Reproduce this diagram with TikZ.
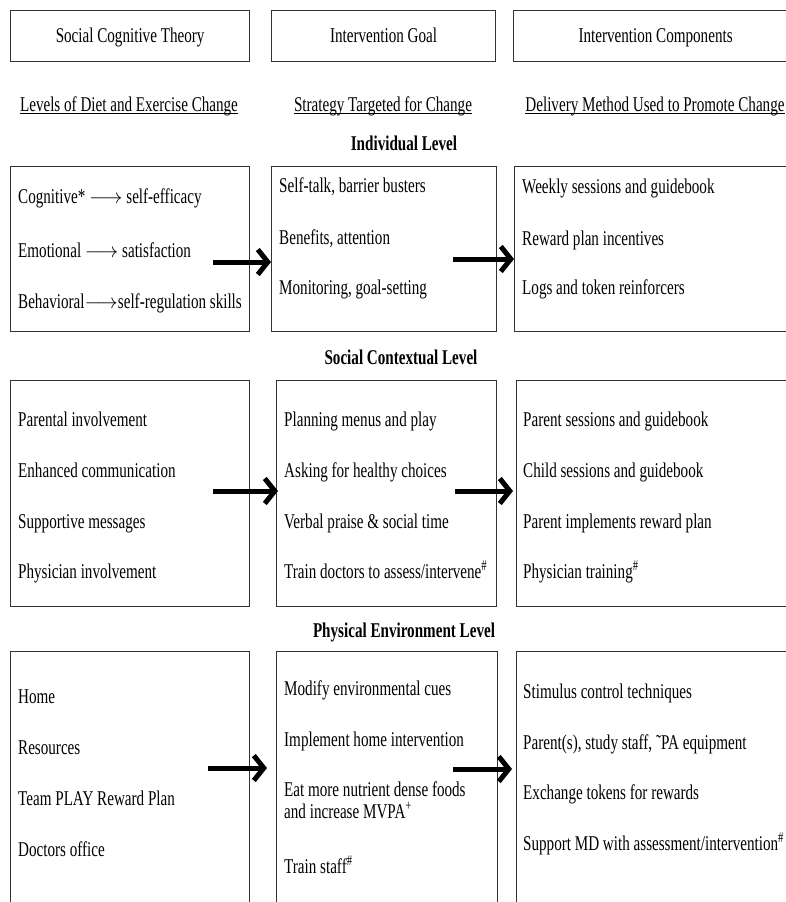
\documentclass[tikz,border=0pt]{standalone}
\usepackage{fontspec}
\setmainfont[FakeStretch=0.72]{Liberation Serif}
\usetikzlibrary{arrows.meta,positioning}

\newcommand{\lineUnder}[1]{\setbox0\hbox{#1}\rlap{\raisebox{-3.2pt}{\rule{\wd0}{0.9pt}}}\box0}

\begin{document}
\begin{tikzpicture}[
  x=1pt, y=-1pt,
  every node/.style={font=\fontsize{21}{22}\selectfont},
  panel/.style={draw=black!80, line width=1.2pt, anchor=north west,
    inner sep=0pt, text height=14pt, text depth=2pt},
  item/.style={anchor=base west, inner sep=0pt},
  caption/.style={anchor=base, inner sep=0pt},
  levelText/.style={anchor=base, inner sep=0pt,
    font=\fontsize{21}{22}\selectfont\bfseries},
  flow/.style={line width=5pt, -{Straight Barb[length=10pt,width=25pt]}}
]
\useasboundingbox (0,0) rectangle (786,902);
\clip (0,0) rectangle (786,902);

% Column headers.
\node[panel, minimum width=239pt, minimum height=51pt] (hdTheory) at (10,10)
  {Social Cognitive Theory};
\node[panel, minimum width=224pt, minimum height=51pt] (hdGoal) at (271,10)
  {Intervention Goal};
\node[panel, minimum width=284pt, minimum height=51pt] (hdParts) at (513,10)
  {Intervention Components};

\node[caption] (subTheory) at (129,111) {\lineUnder{Levels of Diet and Exercise Change}};
\node[caption] (subGoal) at (383,111) {\lineUnder{Strategy Targeted for Change}};
\node[caption] (subParts) at (655,111) {\lineUnder{Delivery Method Used to Promote Change}};

% Individual level.
\node[levelText] (lvlIndiv) at (404,150) {Individual Level};
\node[panel, minimum width=239pt, minimum height=165pt] (boxIA) at (10,166) {};
\node[panel, minimum width=225pt, minimum height=165pt] (boxIB) at (271,166) {};
\node[panel, minimum width=286pt, minimum height=165pt] (boxIC) at (514,166) {};

\node[item] (ia1) at (18,203) {Cognitive* $\longrightarrow$ self-efficacy};
\node[item] (ia2) at (18,257) {Emotional $\longrightarrow$ satisfaction};
\node[item] (ia3) at (18,308) {Behavioral$\longrightarrow$self-regulation skills};
\node[item] (ib1) at (279,192) {Self-talk, barrier busters};
\node[item] (ib2) at (279,244) {Benefits, attention};
\node[item] (ib3) at (279,294) {Monitoring, goal-setting};
\node[item] (ic1) at (522,193) {Weekly sessions and guidebook};
\node[item] (ic2) at (522,245) {Reward plan incentives};
\node[item] (ic3) at (522,294) {Logs and token reinforcers};

\coordinate (arIA) at (213,262);
\coordinate (arIB) at (453,259);
\draw[flow] (arIA) -- (arIA -| boxIB.west);
\draw[flow] (arIB) -- (arIB -| boxIC.west);

% Social contextual level.
\node[levelText] (lvlSocial) at (401,364) {Social Contextual Level};
\node[panel, minimum width=239pt, minimum height=226pt] (boxSA) at (10,380) {};
\node[panel, minimum width=220pt, minimum height=226pt] (boxSB) at (276,380) {};
\node[panel, minimum width=284pt, minimum height=226pt] (boxSC) at (516,380) {};

\node[item] (sa1) at (18,426) {Parental involvement};
\node[item] (sa2) at (18,477) {Enhanced communication};
\node[item] (sa3) at (18,528) {Supportive messages};
\node[item] (sa4) at (18,578) {Physician involvement};
\node[item] (sb1) at (284,426) {Planning menus and play};
\node[item] (sb2) at (284,477) {Asking for healthy choices};
\node[item] (sb3) at (284,528) {Verbal praise \& social time};
\node[item] (sb4) at (284,578) {Train doctors to assess/intervene\textsuperscript{\#}};
\node[item] (sc1) at (523,426) {Parent sessions and guidebook};
\node[item] (sc2) at (523,477) {Child sessions and guidebook};
\node[item] (sc3) at (523,528) {Parent implements reward plan};
\node[item] (sc4) at (523,578) {Physician training\textsuperscript{\#}};

\coordinate (arSA) at (213,491);
\coordinate (arSB) at (455,491);
\draw[flow, shorten >=-2pt] (arSA) -- (arSA -| boxSB.west);
\draw[flow, shorten >=3pt] (arSB) -- (arSB -| boxSC.west);

% Physical environment level.
\node[levelText] (lvlPhys) at (404,637) {Physical Environment Level};
\node[panel, minimum width=239pt, minimum height=280pt] (boxPA) at (10,651) {};
\node[panel, minimum width=221pt, minimum height=280pt] (boxPB) at (276,651) {};
\node[panel, minimum width=284pt, minimum height=280pt] (boxPC) at (516,651) {};

\node[item] (pa1) at (18,703) {Home};
\node[item] (pa2) at (18,754) {Resources};
\node[item] (pa3) at (18,805) {Team PLAY Reward Plan};
\node[item] (pa4) at (18,856) {Doctors office};
\node[item] (pb1) at (284,695) {Modify environmental cues};
\node[item] (pb2) at (284,746) {Implement home intervention};
\node[item, align=left] (pb3) at (284,818)
  {Eat more nutrient dense foods\\and increase MVPA\textsuperscript{+}};
\node[item] (pb4) at (284,873) {Train staff\textsuperscript{\#}};
\node[item] (pc1) at (523,698) {Stimulus control techniques};
\node[item] (pc2) at (523,749) {Parent(s), study staff, ˜PA equipment};
\node[item] (pc3) at (523,799) {Exchange tokens for rewards};
\node[item] (pc4) at (523,850) {Support MD with assessment/intervention\textsuperscript{\#}};

\coordinate (arPA) at (208,768);
\coordinate (arPB) at (453,769);
\draw[flow, shorten >=9pt] (arPA) -- (arPA -| boxPB.west);
\draw[flow, shorten >=4pt] (arPB) -- (arPB -| boxPC.west);
\end{tikzpicture}
\end{document}
